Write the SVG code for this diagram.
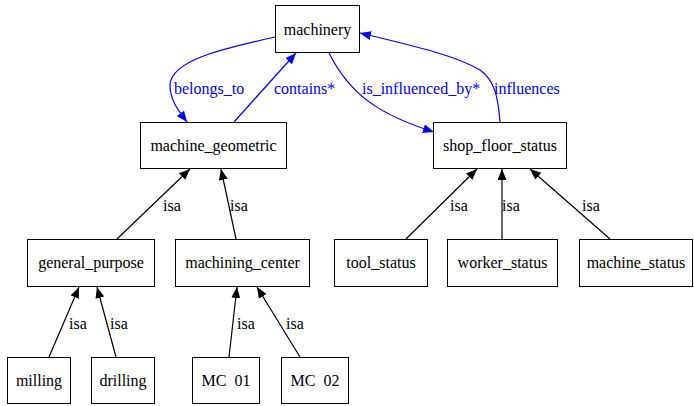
<svg xmlns="http://www.w3.org/2000/svg" width="694" height="406" viewBox="0 0 694 406">
<defs>
<marker id="ak" markerUnits="userSpaceOnUse" markerWidth="12" markerHeight="10" refX="11" refY="4.5" orient="auto"><path d="M0,0 L11,4.5 L0,9 z" fill="#000"/></marker>
<marker id="ab" markerUnits="userSpaceOnUse" markerWidth="12" markerHeight="10" refX="11" refY="4.5" orient="auto"><path d="M0,0 L11,4.5 L0,9 z" fill="#0000ff"/></marker>
</defs>
<rect width="694" height="406" fill="#fff"/>
<g id="edges" fill="none" stroke-width="1.2">
<path stroke="#0000ff" d="M275,37 C225,48 171,60 170,85 C170,100 178,110 187,122" marker-end="url(#ab)"/>
<path stroke="#0000ff" d="M234,122 L296,53" marker-end="url(#ab)"/>
<path stroke="#0000ff" d="M329,53 C350,95 380,115 434,132" marker-end="url(#ab)"/>
<path stroke="#0000ff" d="M500,122 C498,95 494,80 480,70 C455,55 410,45 360,33" marker-end="url(#ab)"/>
<path stroke="#000" d="M117,239 L190,169" marker-end="url(#ak)"/>
<path stroke="#000" d="M236,239 L221,169" marker-end="url(#ak)"/>
<path stroke="#000" d="M49,357 L79,287" marker-end="url(#ak)"/>
<path stroke="#000" d="M116,357 L97,287" marker-end="url(#ak)"/>
<path stroke="#000" d="M229,357 L237,287" marker-end="url(#ak)"/>
<path stroke="#000" d="M300,357 L257,287" marker-end="url(#ak)"/>
<path stroke="#000" d="M406,239 L477,169" marker-end="url(#ak)"/>
<path stroke="#000" d="M502,239 L502,169" marker-end="url(#ak)"/>
<path stroke="#000" d="M610,239 L530,169" marker-end="url(#ak)"/>
<text x="174" y="94" font-family="Liberation Serif" font-size="16" fill="#0000ff" stroke="none">belongs_to</text>
<text x="274" y="94" font-family="Liberation Serif" font-size="16" fill="#0000ff" stroke="none">contains*</text>
<text x="362" y="94" font-family="Liberation Serif" font-size="16" fill="#0000ff" stroke="none">is_influenced_by*</text>
<text x="494" y="94" font-family="Liberation Serif" font-size="16" fill="#0000ff" stroke="none">influences</text>
<text x="163" y="211" font-family="Liberation Serif" font-size="16" fill="#000" stroke="none">isa</text>
<text x="230" y="211" font-family="Liberation Serif" font-size="16" fill="#000" stroke="none">isa</text>
<text x="69" y="329" font-family="Liberation Serif" font-size="16" fill="#000" stroke="none">isa</text>
<text x="110" y="329" font-family="Liberation Serif" font-size="16" fill="#000" stroke="none">isa</text>
<text x="237" y="329" font-family="Liberation Serif" font-size="16" fill="#000" stroke="none">isa</text>
<text x="286" y="329" font-family="Liberation Serif" font-size="16" fill="#000" stroke="none">isa</text>
<text x="450" y="211" font-family="Liberation Serif" font-size="16" fill="#000" stroke="none">isa</text>
<text x="502" y="211" font-family="Liberation Serif" font-size="16" fill="#000" stroke="none">isa</text>
<text x="582" y="211" font-family="Liberation Serif" font-size="16" fill="#000" stroke="none">isa</text>
</g>
<g id="machinery"><rect x="275.5" y="5.5" width="84" height="47" fill="#fff" stroke="#000"/><text x="317.5" y="35" font-family="Liberation Serif" font-size="16" text-anchor="middle">machinery</text></g>
<g id="machine_geometric"><rect x="140.5" y="122.5" width="146" height="46" fill="#fff" stroke="#000"/><text x="213.5" y="151" font-family="Liberation Serif" font-size="16" text-anchor="middle">machine_geometric</text></g>
<g id="shop_floor_status"><rect x="433.5" y="122.5" width="133" height="46" fill="#fff" stroke="#000"/><text x="500" y="151" font-family="Liberation Serif" font-size="16" text-anchor="middle">shop_floor_status</text></g>
<g id="general_purpose"><rect x="27.5" y="239.5" width="127" height="47" fill="#fff" stroke="#000"/><text x="91" y="268" font-family="Liberation Serif" font-size="16" text-anchor="middle">general_purpose</text></g>
<g id="machining_center"><rect x="175.5" y="239.5" width="134" height="47" fill="#fff" stroke="#000"/><text x="242.5" y="268" font-family="Liberation Serif" font-size="16" text-anchor="middle">machining_center</text></g>
<g id="tool_status"><rect x="334.5" y="239.5" width="93" height="47" fill="#fff" stroke="#000"/><text x="381" y="268" font-family="Liberation Serif" font-size="16" text-anchor="middle">tool_status</text></g>
<g id="worker_status"><rect x="447.5" y="239.5" width="110" height="47" fill="#fff" stroke="#000"/><text x="502.5" y="268" font-family="Liberation Serif" font-size="16" text-anchor="middle">worker_status</text></g>
<g id="machine_status"><rect x="579.5" y="239.5" width="113" height="47" fill="#fff" stroke="#000"/><text x="636" y="268" font-family="Liberation Serif" font-size="16" text-anchor="middle">machine_status</text></g>
<g id="milling"><rect x="7.5" y="357.5" width="63" height="46" fill="#fff" stroke="#000"/><text x="39" y="386" font-family="Liberation Serif" font-size="16" text-anchor="middle">milling</text></g>
<g id="drilling"><rect x="91.5" y="357.5" width="63" height="46" fill="#fff" stroke="#000"/><text x="123" y="386" font-family="Liberation Serif" font-size="16" text-anchor="middle">drilling</text></g>
<g id="MC_01"><rect x="192.5" y="357.5" width="67" height="46" fill="#fff" stroke="#000"/><text x="226" y="386" font-family="Liberation Serif" font-size="16" text-anchor="middle" xml:space="preserve">MC  01</text></g>
<g id="MC_02"><rect x="281.5" y="357.5" width="67" height="46" fill="#fff" stroke="#000"/><text x="315" y="386" font-family="Liberation Serif" font-size="16" text-anchor="middle" xml:space="preserve">MC  02</text></g>
</svg>
